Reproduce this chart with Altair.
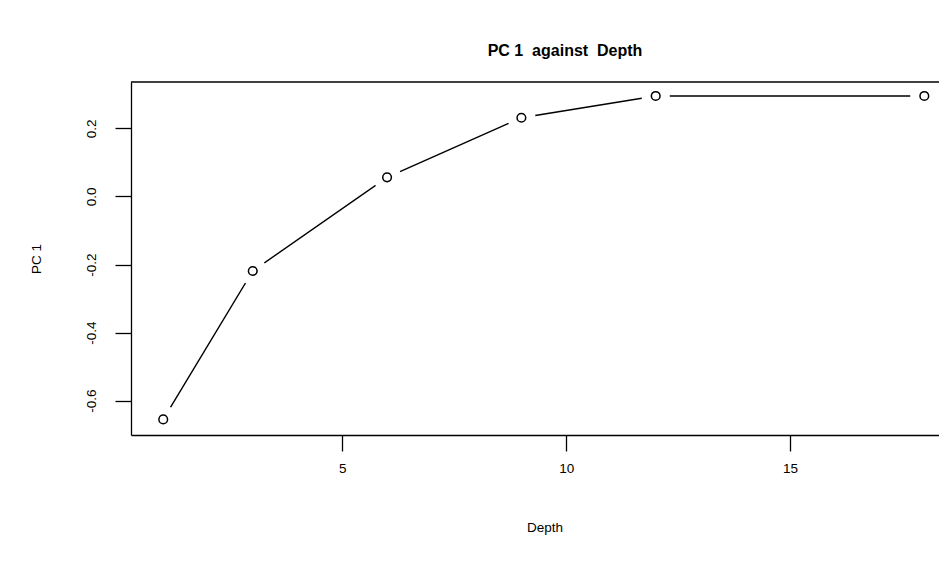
import altair as alt
import pandas as pd

# data
depth = [1, 3, 6, 9, 12, 18]
pc1 = [-0.655, -0.219, 0.056, 0.231, 0.295, 0.295]
x_ticks = [5, 10, 15]
y_ticks = [-0.6, -0.4, -0.2, 0.0, 0.2]

df = pd.DataFrame({"Depth": depth, "PC1": pc1})

W, H = 808, 353
FONT = "Liberation Sans"

xs = alt.Scale(domain=[0.2803, 18.328], nice=False, zero=False)
ys = alt.Scale(domain=[-0.7007, 0.336], nice=False, zero=False)

x_axis = alt.Axis(
    values=x_ticks, title="Depth", grid=False, tickSize=16, labelPadding=10.5,
    labelFlush=False, labelFontSize=13.5, labelFont=FONT, labelColor="black",
    titleFontSize=13.5, titleFont=FONT, titleFontWeight="normal", titleColor="black",
    titleX=413.5, titleY=96, titleBaseline="alphabetic", titleAlign="center",
    domainColor="black", tickColor="black", domainWidth=1.3, tickWidth=1.3,
)
y_axis = alt.Axis(
    values=y_ticks, title="PC 1", grid=False, tickSize=16, labelPadding=20,
    labelAngle=270, labelAlign="center", labelBaseline="alphabetic",
    labelExpr="replace(format(datum.value, '.1f'), '\u2212', '-')",
    labelOverlap=False, labelFlush=False,
    labelFontSize=13.5, labelFont=FONT, labelColor="black",
    titleFontSize=13.5, titleFont=FONT, titleFontWeight="normal", titleColor="black",
    titleAngle=270, titleX=-91, titleY=176.5, titleBaseline="alphabetic", titleAlign="center",
    domainColor="black", tickColor="black", domainWidth=1.3, tickWidth=1.3,
)

base = alt.Chart(df).encode(
    x=alt.X("Depth:Q", scale=xs, axis=x_axis),
    y=alt.Y("PC1:Q", scale=ys, axis=y_axis),
)

line = base.mark_line(color="black", strokeWidth=1.4)
gaps = base.mark_point(shape="circle", filled=True, color="white", size=800, opacity=1)
pts = base.mark_point(shape="circle", filled=False, color="black", size=75,
                      strokeWidth=1.5, opacity=1)
top = alt.Chart(alt.Data(values=[{}])).mark_rule(color="black", strokeWidth=1.3).encode(
    x=alt.value(0), x2=alt.value(W), y=alt.value(0)
)

chart = alt.layer(line, gaps, pts, top).properties(
    width=W, height=H,
    autosize=alt.AutoSizeParams(type="none"),
    padding={"left": 123, "top": 74, "right": 0, "bottom": 118},
    title=alt.Title(
        "PC 1\u00a0\u00a0against\u00a0\u00a0Depth", fontSize=16, font=FONT,
        fontWeight="bold", color="black", anchor="middle", frame="group",
        dx=30, offset=9, baseline="alphabetic",
    ),
).configure_view(stroke=None).configure_axis(zindex=1)

chart.save("out.html", embed_options={"renderer": "svg", "actions": False})
